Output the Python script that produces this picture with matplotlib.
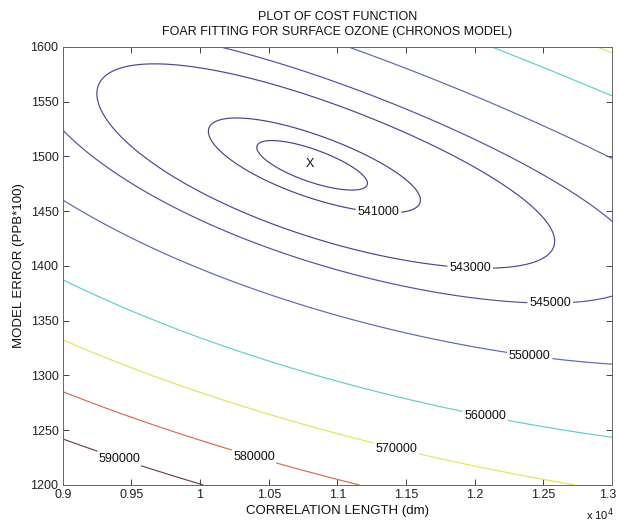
import numpy as np
import matplotlib
matplotlib.use("Agg")
import matplotlib.pyplot as plt
from matplotlib.transforms import ScaledTranslation

plt.rcParams['font.family'] = ['Liberation Sans', 'DejaVu Sans']

# ---- data ----
levels = [540600, 541000, 543000, 545000, 550000, 560000, 570000, 580000, 590000]
level_colors = ['#44448e', '#44448e', '#474796', '#5050a4', '#5c68b2',
                '#5ccfcf', '#e4e45a', '#d46e4c', '#744048']

# points lying on each contour (x = correlation length, y = model error)
pt_x = [10438, 11219, 10632, 11069,
        10068, 11616, 10241, 11300,
        9248, 9585, 11022, 12600, 11968,
        9000, 13000, 10220, 13000, 12550,
        9000, 13000, 11093, 13000, 12405,
        9000, 13000, 12113, 13000, 12077,
        9000, 12634, 12890, 13000, 11433,
        9000, 11000, 10401,
        9000, 9920, 9430]
pt_y = [1508, 1475.5, 1512, 1468.8,
        1523, 1460, 1535, 1449,
        1561, 1587.5, 1541, 1424, 1401,
        1529, 1370, 1600, 1442, 1369,
        1462, 1310, 1600, 1498, 1322,
        1380, 1243, 1600, 1556, 1264,
        1332, 1200, 1600, 1594, 1235,
        1285, 1200, 1229.5,
        1243, 1200, 1231]
pt_level = [540600] * 4 + [541000] * 4 + [543000] * 5 + [545000] * 5 + \
           [550000] * 5 + [560000] * 5 + [570000] * 5 + [580000] * 3 + [590000] * 3

min_x, min_y, min_cost = 10810, 1492, 540450

label_levels = [541000, 543000, 545000, 550000, 560000, 570000, 580000, 590000]
label_x = [11300, 11968, 12550, 12405, 12077, 11433, 10401, 9430]
label_y = [1451, 1401, 1369, 1322, 1264, 1235, 1229.5, 1231]

x_ticks = [9000, 9500, 10000, 10500, 11000, 11500, 12000, 12500, 13000]
x_tick_labels = ['0.9', '0.95', '1', '1.05', '1.1', '1.15', '1.2', '1.25', '1.3']
y_ticks = [1200, 1250, 1300, 1350, 1400, 1450, 1500, 1550, 1600]

# ---- smooth cost surface through the read contour points ----
def feats(u, v):
    return np.stack([u**2, u*v, v**2, u**3, u**2*v, u*v**2, v**3], axis=-1)

pu = np.log(np.array(pt_x, float) / min_x)
pv = (np.array(pt_y, float) - min_y) / 100.0
pb = np.array(pt_level, float) - min_cost
wt = 1.0 / np.sqrt(pb)
coef, *_ = np.linalg.lstsq(feats(pu, pv) * wt[:, None], pb * wt, rcond=None)

gx = np.linspace(9000, 13000, 500)
gy = np.linspace(1200, 1600, 500)
GX, GY = np.meshgrid(gx, gy)
Z = min_cost + feats(np.log(GX / min_x), (GY - min_y) / 100.0) @ coef

# ---- figure ----
fig = plt.figure(figsize=(6.19, 5.25), dpi=100)
ax = fig.add_axes([0.1013, 0.0762, 0.8874, 0.8343])

cs = ax.contour(GX, GY, Z, levels=levels, colors=level_colors, linewidths=0.85)
texts = ax.clabel(cs, manual=list(zip(label_x, label_y)),
                  fmt='%d', fontsize=9, colors='#111111', inline=True, inline_spacing=2)
for t in texts:
    t.set_rotation(0)

ax.text(min_x - 8, min_y + 1, 'X', ha='center', va='center', fontsize=9,
        color='#111111')

ax.set_xlim(9000, 13000)
ax.set_ylim(1200, 1600)
ax.set_xticks(x_ticks)
ax.set_xticklabels(x_tick_labels)
ax.set_yticks(y_ticks)
ax.tick_params(direction='in', top=True, right=True, length=4, width=0.6,
               labelsize=9, colors='#222222', pad=3)
for s in ax.spines.values():
    s.set_color('#666666')
    s.set_linewidth(0.7)

# keep the last x tick label inside the figure
last = ax.get_xticklabels()[-1]
last.set_transform(last.get_transform() + ScaledTranslation(-3 / 72, 0, fig.dpi_scale_trans))

ax.set_xlabel('CORRELATION LENGTH (dm)', fontsize=9.5, labelpad=3, color='#111111')
ax.set_ylabel('MODEL ERROR (PPB*100)', fontsize=9.5, labelpad=4, color='#111111')
ax.set_title('PLOT OF COST FUNCTION\nFOAR FITTING FOR SURFACE OZONE (CHRONOS MODEL)',
             fontsize=9, pad=8.5, linespacing=1.4, color='#111111')
ax.text(0.978, -0.067, r'x 10$^{4}$', transform=ax.transAxes, ha='center',
        va='center', fontsize=8, color='#111111')

fig.savefig('out.png', dpi=100)
